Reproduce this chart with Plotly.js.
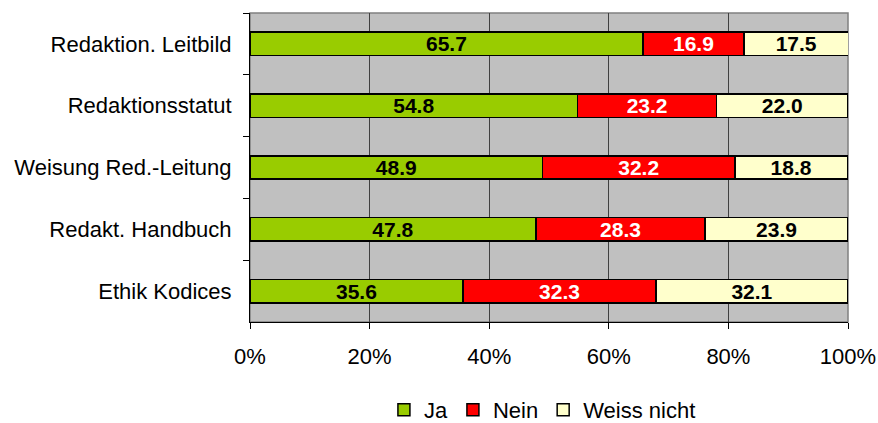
<!DOCTYPE html>
<html>
<head>
<meta charset="utf-8">
<script src="https://cdn.plot.ly/plotly-3.0.1.min.js"></script>
<style>html,body{margin:0;padding:0;background:#fff;}#chart{width:878px;height:423px;}</style>
</head>
<body>
<div id="chart"></div>
<script>
const categories = ["Redaktion. Leitbild", "Redaktionsstatut", "Weisung Red.-Leitung", "Redakt. Handbuch", "Ethik Kodices"];
const ja = [65.7, 54.8, 48.9, 47.8, 35.6];
const nein = [16.9, 23.2, 32.2, 28.3, 32.3];
const weissNicht = [17.5, 22.0, 18.8, 23.9, 32.1];
const seriesNames = ["Ja", "Nein", "Weiss nicht"];
const xTickVals = [0, 20, 40, 60, 80, 100];
const xTickText = ["0%", "20%", "40%", "60%", "80%", "100%"];

const colors = ["#99cc00", "#ff0000", "#ffffcc"];
const textColors = ["#000000", "#ffffff", "#000000"];
const font = "Arial, 'Liberation Sans', sans-serif";

const traces = [ja, nein, weissNicht].map((vals, i) => ({
  type: "bar",
  orientation: "h",
  name: seriesNames[i],
  y: categories,
  x: vals,
  width: 0.38,
  marker: { color: colors[i], line: { color: "#000", width: 1.5 } },
  text: vals.map(v => v.toFixed(1)),
  textposition: "inside",
  insidetextanchor: "middle",
  constraintext: "none",
  textfont: { family: font, size: 21, color: textColors[i], weight: "bold" },
  hoverinfo: "none"
}));

const layout = {
  width: 878, height: 423,
  margin: { l: 250, r: 30, t: 13, b: 101, autoexpand: false },
  paper_bgcolor: "#ffffff",
  plot_bgcolor: "#c0c0c0",
  barmode: "stack",
  showlegend: true,
  font: { family: font, size: 22, color: "#000" },
  xaxis: {
    range: [0, 100],
    tickvals: xTickVals,
    ticktext: xTickText,
    showgrid: true,
    gridcolor: "#404040",
    gridwidth: 1,
    zeroline: false,
    showline: true,
    linecolor: "#000",
    linewidth: 1,
    ticks: "outside",
    ticklen: 6,
    tickcolor: "#000",
    ticklabelstandoff: 9,
    tickfont: { family: font, size: 22, color: "#000" },
    fixedrange: true
  },
  yaxis: {
    autorange: "reversed",
    showgrid: false,
    zeroline: false,
    showline: true,
    linecolor: "#000",
    linewidth: 1,
    ticks: "outside",
    tickson: "boundaries",
    ticklen: 6,
    tickcolor: "#000",
    ticklabelstandoff: 13,
    tickfont: { family: font, size: 22, color: "#000" },
    fixedrange: true
  },
  shapes: [{
    type: "rect", xref: "paper", yref: "paper", x0: 0, x1: 1, y0: 0, y1: 1,
    line: { color: "#808080", width: 1.5 }, layer: "below"
  }],
  legend: {
    orientation: "h",
    x: 0.489, xanchor: "center",
    y: -0.285, yanchor: "middle",
    font: { family: font, size: 22, color: "#000" },
    itemwidth: 30,
    traceorder: "normal",
    bgcolor: "rgba(0,0,0,0)"
  }
};

Plotly.newPlot("chart", traces, layout, { displayModeBar: false, staticPlot: true });
</script>
</body>
</html>
